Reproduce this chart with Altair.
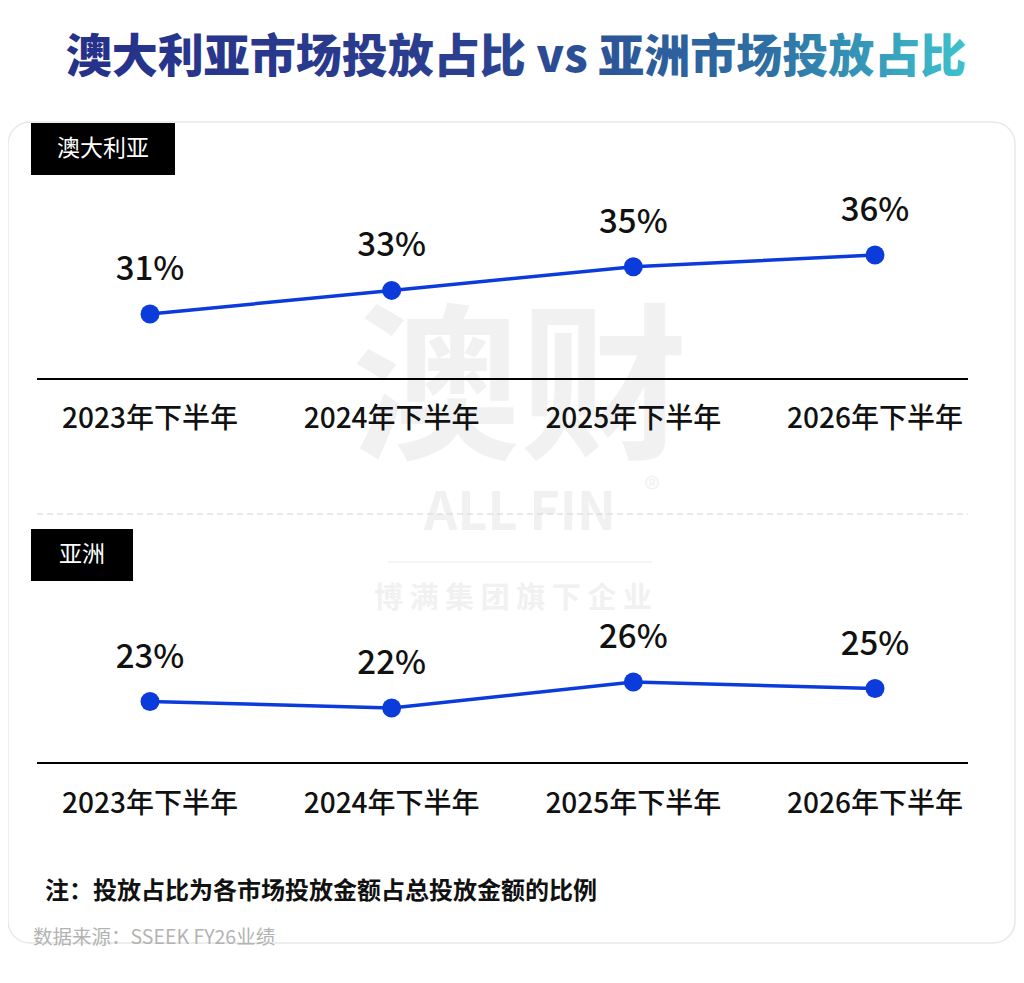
import altair as alt
import pandas as pd

# ---- data ----
periods = ["2023年下半年", "2024年下半年", "2025年下半年", "2026年下半年"]
aus_share = [31, 33, 35, 36]
asia_share = [23, 22, 26, 25]

FONT = "Noto Sans CJK SC"
BLUE = "#0B3BDB"
one = pd.DataFrame({"k": [0]})


def txt(s, x, y, size, color="#111111", weight="normal", align="center", baseline="middle"):
    return alt.Chart(one).mark_text(
        text=s, fontSize=size, color=color, fontWeight=weight,
        align=align, baseline=baseline, font=FONT
    ).encode(x=alt.value(x), y=alt.value(y))


def rect(x, x2, y, y2, **kw):
    return alt.Chart(one).mark_rect(**kw).encode(
        x=alt.value(x), x2=alt.value(x2), y=alt.value(y), y2=alt.value(y2))


def rule(x, x2, y, **kw):
    return alt.Chart(one).mark_rule(**kw).encode(
        x=alt.value(x), x2=alt.value(x2), y=alt.value(y))


xscale = alt.Scale(type="point", domain=periods, range=[142, 867], padding=0)


def panel(values, domain, rng, label_y):
    df = pd.DataFrame({"period": periods, "share": values})
    df["label"] = df["share"].astype(str) + "%"
    x = alt.X("period:N", sort=periods, scale=xscale, axis=None)
    y = alt.Y("share:Q", scale=alt.Scale(domain=domain, range=rng, zero=False, nice=False), axis=None)
    base = alt.Chart(df)
    line = base.mark_line(color=BLUE, strokeWidth=3.5).encode(x=x, y=y)
    pts = base.mark_circle(color=BLUE, size=360, opacity=1).encode(x=x, y=y)
    vals = base.mark_text(fontSize=33, fontWeight=500, dy=-44, font=FONT, color="#111111").encode(
        x=x, y=y, text="label:N")
    ticks = base.mark_text(fontSize=28, fontWeight=500, font=FONT, color="#111111").encode(
        x=x, y=alt.value(label_y), text="period:N")
    return alt.layer(line, pts, vals, ticks)


grad = alt.LinearGradient(
    gradient="linear",
    stops=[
        alt.GradientStop(color="#26318A", offset=0),
        alt.GradientStop(color="#2B3F8F", offset=0.45),
        alt.GradientStop(color="#2E6FA3", offset=0.78),
        alt.GradientStop(color="#3EC2CD", offset=1),
    ],
    x1=0, x2=1, y1=0, y2=0,
)

title = alt.Chart(one).mark_text(
    text="澳大利亚市场投放占比 vs 亚洲市场投放占比", fontSize=46, fontWeight=900,
    font=FONT, color=grad, align="center", baseline="middle"
).encode(x=alt.value(508), y=alt.value(50))

card = rect(0, 1007, 114, 935, cornerRadius=22, fill="white", stroke="#e8e8e8", strokeWidth=1.5)

WM = "#f1f1f1"
watermark = [
    txt("澳财", 512, 388, 168, color=WM, weight="bold"),
    txt("ALL FIN", 512, 506, 52, color=WM, weight="bold"),
    txt("®", 644, 483, 32, color=WM),
    rule(380, 644, 554, color=WM, strokeWidth=1.5),
    txt("博 满 集 团 旗 下 企 业", 505, 591, 29, color=WM, weight="bold"),
]

decor = [
    rect(23, 167, 115, 167, fill="black"),
    txt("澳大利亚", 95, 141, 23, color="white"),
    rule(29, 960, 371, color="black", strokeWidth=2),
    rule(29, 960, 506, color="#d4d4d4", strokeWidth=1.2, strokeDash=[6, 4]),
    rect(23, 125, 521, 573, fill="black"),
    txt("亚洲", 74, 547, 23, color="white"),
    rule(29, 960, 755, color="black", strokeWidth=2),
    txt("注：投放占比为各市场投放金额占总投放金额的比例", 37, 884, 24, weight="bold", align="left"),
    txt("数据来源：SSEEK FY26业绩", 25, 930, 19.5, color="#b3b3b3", align="left"),
]

aus = panel(aus_share, [31, 36], [306, 247], 412)
asia = panel(asia_share, [22, 26], [700, 674], 797)

chart = alt.layer(
    card, *watermark, title, *decor, aus, asia
).resolve_scale(y="independent").properties(
    width=1008, height=967, padding=0, background="white",
    autosize=alt.AutoSizeParams(type="none"),
).configure_view(strokeWidth=0, stroke="transparent")

chart.save("out.html", embed_options={"renderer": "svg", "actions": False})
